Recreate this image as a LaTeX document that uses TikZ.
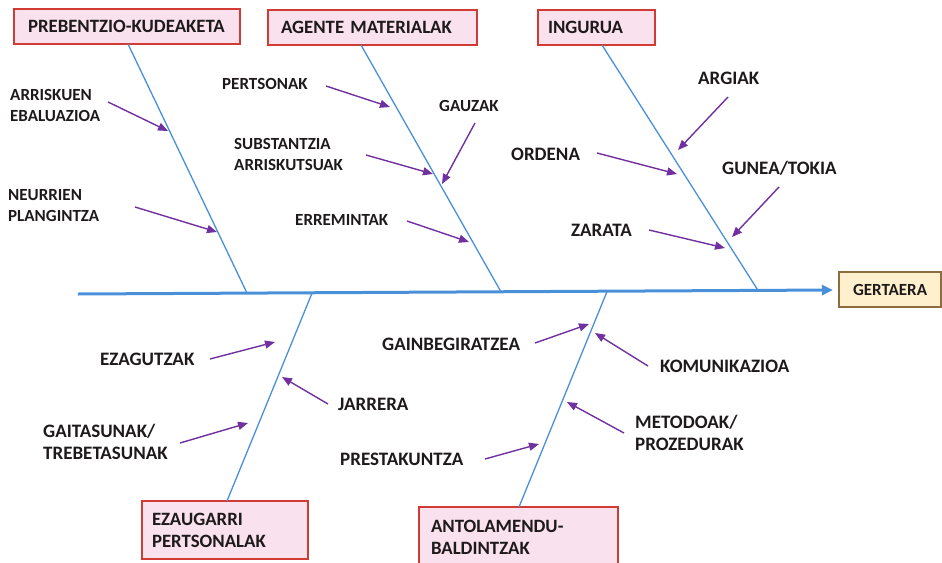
\documentclass[tikz,border=0pt]{standalone}
\usepackage{fontspec}
\setmainfont{Carlito}
\usetikzlibrary{arrows.meta}
\definecolor{boneblue}{HTML}{4A90D9}
\definecolor{arrowpurple}{HTML}{7030A0}
\definecolor{boxfill}{HTML}{F9E1EE}
\definecolor{boxdraw}{HTML}{D23A34}
\definecolor{endfill}{HTML}{FEF0CD}
\definecolor{enddraw}{HTML}{8C6D3F}
\definecolor{ink}{HTML}{1E1A1B}
\begin{document}
\begin{tikzpicture}[x=1pt,y=-1pt,
  lbl/.style={anchor=west, inner sep=0pt, align=left, text=ink,
    font=\bfseries\fontsize{17}{21}\selectfont},
  lblm/.style={lbl, font=\bfseries\fontsize{19}{22}\selectfont},
  catbox/.style={draw=boxdraw, fill=boxfill, line width=1.4pt, align=left,
    inner ysep=0pt, text=ink, font=\bfseries\fontsize{18.8}{22}\selectfont},
  endbox/.style={catbox, draw=enddraw, fill=endfill,
    font=\bfseries\fontsize{17}{21}\selectfont},
  bone/.style={draw=boneblue, line width=1.3pt},
  spine/.style={draw=boneblue, line width=3pt, -{Triangle[length=11pt,width=10pt]}},
  cause/.style={draw=arrowpurple, line width=1.4pt, -{Triangle[length=10pt,width=8pt]}}
]
\clip (0,0) rectangle (942,562);
\useasboundingbox (0,0) rectangle (942,562);

% category boxes
\node[catbox, inner xsep=14pt, text width=198pt, minimum height=35pt] (b1) at (127,26.5) {\mbox{PREBENTZIO-KUDEAKETA}};
\node[catbox, inner xsep=13pt, text width=183pt, minimum height=35pt] (b2) at (372.5,27.5) {AGENTE MATERIALAK};
\node[catbox, inner xsep=10pt, text width=97pt, minimum height=35pt] (b3) at (596.5,27.5) {INGURUA};
\node[catbox, inner xsep=10pt, text width=146pt, minimum height=58pt] (b4) at (225,530) {EZAUGARRI\\PERTSONALAK};
\node[catbox, inner xsep=12pt, text width=175pt, minimum height=60pt] (b5) at (518.5,537) {ANTOLAMENDU-\\BALDINTZAK};
\node[endbox, inner xsep=14pt, text width=74pt, minimum height=35pt] (eff) at (890,289.5) {GERTAERA};

% spine
\coordinate (tail) at (78,294);
\coordinate (head) at (833,290);
\draw[spine] (tail) -- (head);

% bones
\coordinate (t1) at (128,44);   \coordinate (j1) at (247,293.1);
\coordinate (t2) at (361,45);   \coordinate (j2) at (501,291.8);
\coordinate (t3) at (602,45);   \coordinate (j3) at (758,290.4);
\coordinate (j4) at (312,293.2); \coordinate (t4) at (227,501);
\coordinate (j5) at (607,291.6); \coordinate (t5) at (519,507);
\draw[bone] (t1) -- (j1);
\draw[bone] (t2) -- (j2);
\draw[bone] (t3) -- (j3);
\draw[bone] (j4) -- (t4);
\draw[bone] (j5) -- (t5);

% labels
\node[lbl] (l1) at (10,105.5) {ARRISKUEN\\EBALUAZIOA};
\node[lbl] (l2) at (8,205.5) {NEURRIEN\\PLANGINTZA};
\node[lbl] (l3) at (222,84) {PERTSONAK};
\node[lbl] (l4) at (439,106) {GAUZAK};
\node[lbl] (l5) at (234,154) {SUBSTANTZIA\\ARRISKUTSUAK};
\node[lbl] (l6) at (295,220) {ERREMINTAK};
\node[lblm] (l7) at (511,154) {ORDENA};
\node[lblm] (l8) at (698,78) {ARGIAK};
\node[lblm] (l9) at (722,168) {GUNEA/TOKIA};
\node[lblm] (l10) at (571,230) {ZARATA};
\node[lblm] (l11) at (100,359) {EZAGUTZAK};
\node[lblm] (l12) at (338,404) {JARRERA};
\node[lblm] (l13) at (43,442) {GAITASUNAK/\\TREBETASUNAK};
\node[lblm] (l14) at (382,344) {GAINBEGIRATZEA};
\node[lblm] (l15) at (660,366) {KOMUNIKAZIOA};
\node[lblm] (l16) at (635,433) {METODOAK/\\PROZEDURAK};
\node[lblm] (l17) at (340,459) {PRESTAKUNTZA};

% cause arrows
\coordinate (a1s) at (108,102); \coordinate (a1e) at (168,131);
\coordinate (a2s) at (135,207); \coordinate (a2e) at (217,232);
\coordinate (a3s) at (326,86);  \coordinate (a3e) at (390,107);
\coordinate (a4s) at (475,123); \coordinate (a4e) at (442,184);
\coordinate (a5s) at (366,155); \coordinate (a5e) at (433,174);
\coordinate (a6s) at (407,221); \coordinate (a6e) at (469,242);
\coordinate (a7s) at (597,153); \coordinate (a7e) at (677,174);
\coordinate (a8s) at (728,97);  \coordinate (a8e) at (678,150);
\coordinate (a9s) at (779,187); \coordinate (a9e) at (732,237);
\coordinate (a10s) at (649,230); \coordinate (a10e) at (725,248);
\coordinate (a11s) at (210,359); \coordinate (a11e) at (275,342);
\coordinate (a12s) at (328,404); \coordinate (a12e) at (282,377);
\coordinate (a13s) at (180,443); \coordinate (a13e) at (248,423);
\coordinate (a14s) at (535,343); \coordinate (a14e) at (589,324);
\coordinate (a15s) at (648,366); \coordinate (a15e) at (595,333);
\coordinate (a16s) at (624,433); \coordinate (a16e) at (567,402);
\coordinate (a17s) at (485,459); \coordinate (a17e) at (539,444);
\foreach \i in {1,...,17} { \draw[cause] (a\i s) -- (a\i e); }
\end{tikzpicture}
\end{document}
